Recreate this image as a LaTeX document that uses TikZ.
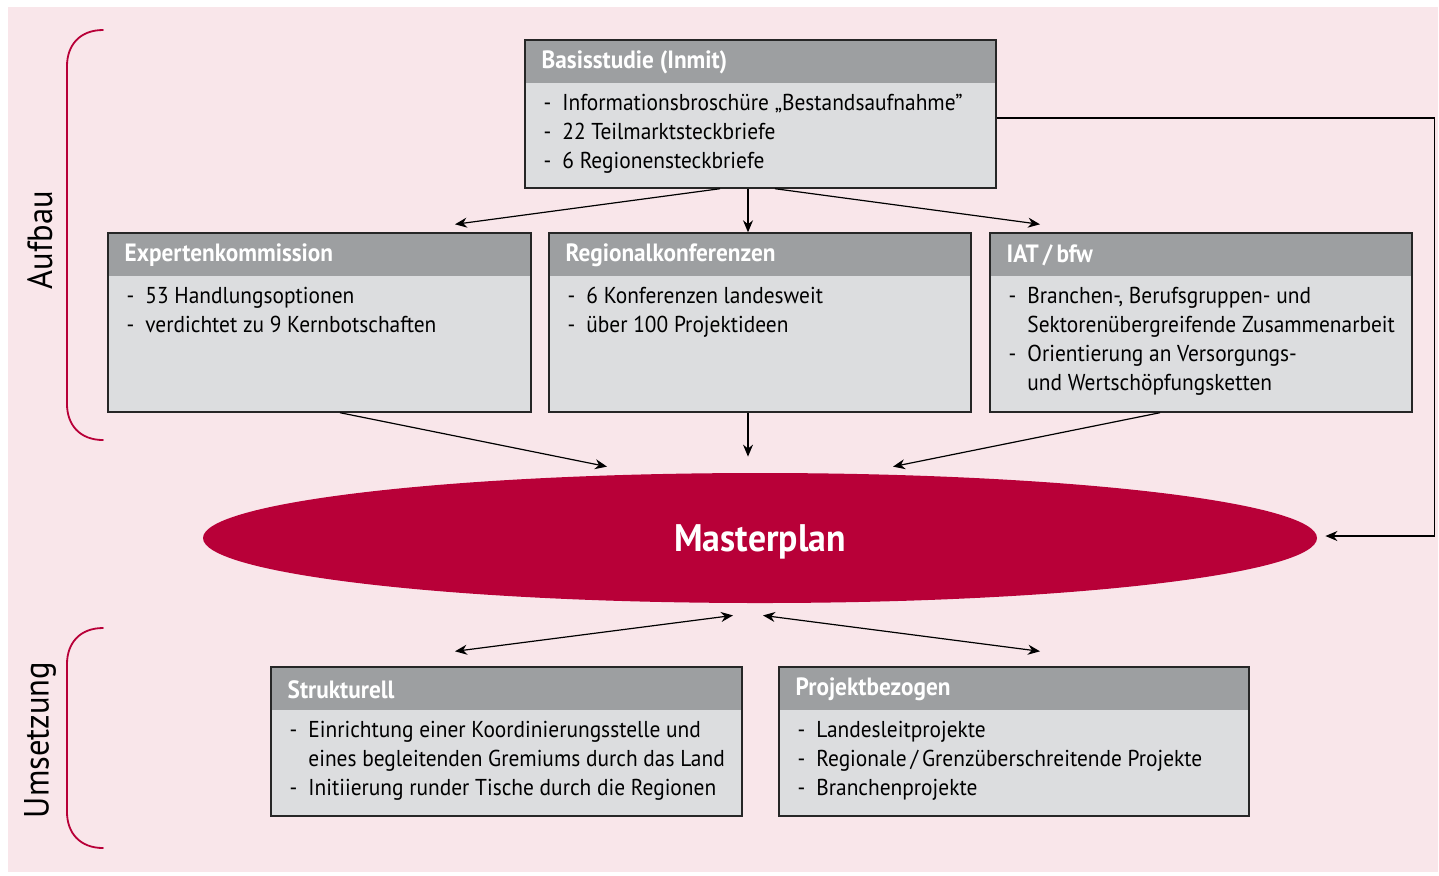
\documentclass[tikz,border=0pt]{standalone}
\usepackage{fontspec}
\setmainfont{PT Sans}[FakeStretch=0.93]
\usetikzlibrary{shapes.geometric,arrows.meta}
\definecolor{bgpink}{HTML}{F9E6EA}
\definecolor{crimson}{HTML}{B80038}
\definecolor{headgray}{HTML}{9D9FA1}
\definecolor{bodygray}{HTML}{DCDDDF}
\begin{document}
\begin{tikzpicture}[x=0.5pt,y=-0.5pt,
  panel/.style={fill=bodygray, draw=black!85, line width=0.7pt, inner sep=0pt,
    path picture={\fill[headgray] (path picture bounding box.north west) rectangle ([yshift=-21.5pt]path picture bounding box.north east);}},
  headtext/.style={anchor=west, inner sep=0pt, text=white, font=\bfseries\fontsize{12.5}{14.5}\selectfont},
  listtext/.style={anchor=north west, inner sep=0pt, font=\fontsize{11.5}{14.5}\selectfont},
  arr/.style={-{Stealth[length=6pt,width=5pt]}, line width=0.6pt},
  darr/.style={{Stealth[length=6pt,width=5pt]}-{Stealth[length=6pt,width=5pt]}, line width=0.6pt},
  bracket/.style={draw=crimson, line width=0.9pt, line cap=round}]
\useasboundingbox (0,0) rectangle (1439,875);
\fill[bgpink] (8,7) rectangle (1438,872);
%%% The panels of the Aufbau phase
\node[panel, minimum width=235.5pt, minimum height=74pt] (basis) at (760.5,114) {};
\node[headtext] (basisT) at ([shift={(17,23)}]basis.north west) {Basisstudie (Inmit)};
\node[listtext] (basisL) at ([shift={(19,50)}]basis.north west)
{\begin{tabular}{@{}l@{\hspace{5.5pt}}l@{}}
- & Informationsbroschüre „Bestandsaufnahme”\\
- & 22 Teilmarktsteckbriefe\\
- & 6 Regionensteckbriefe
\end{tabular}};
%
\node[panel, minimum width=211.5pt, minimum height=89.5pt] (expert) at (319.5,322.5) {};
\node[headtext] (expertT) at ([shift={(17,23)}]expert.north west) {Expertenkommission};
\node[listtext] (expertL) at ([shift={(19,50)}]expert.north west)
{\begin{tabular}{@{}l@{\hspace{5.5pt}}l@{}}
- & 53 Handlungsoptionen\\
- & verdichtet zu 9 Kernbotschaften
\end{tabular}};
%
\node[panel, minimum width=211pt, minimum height=89.5pt] (regional) at (760,322.5) {};
\node[headtext] (regionalT) at ([shift={(17,23)}]regional.north west) {Regionalkonferenzen};
\node[listtext] (regionalL) at ([shift={(19,50)}]regional.north west)
{\begin{tabular}{@{}l@{\hspace{5.5pt}}l@{}}
- & 6 Konferenzen landesweit\\
- & über 100 Projektideen
\end{tabular}};
%
\node[panel, minimum width=211pt, minimum height=89.5pt] (iat) at (1201,322.5) {};
\node[headtext] (iatT) at ([shift={(17,23)}]iat.north west) {IAT\,/\,bfw};
\node[listtext] (iatL) at ([shift={(19,50)}]iat.north west)
{\begin{tabular}{@{}l@{\hspace{5.5pt}}l@{}}
- & Branchen-, Berufsgruppen- und\\
  & Sektorenübergreifende Zusammenarbeit\\
- & Orientierung an Versorgungs-\\
  & und Wertschöpfungsketten
\end{tabular}};
%%% The Masterplan
\node[ellipse, fill=crimson, minimum width=557pt, minimum height=65pt, inner sep=0pt, text depth=0pt,
  text=white, font=\bfseries\fontsize{19.2}{21}\selectfont] (master) at (760,538) {Masterplan};
%%% The panels of the Umsetzung phase
\node[panel, minimum width=235.5pt, minimum height=74.5pt] (struk) at (506.5,741.5) {};
\node[headtext] (strukT) at ([shift={(17,23)}]struk.north west) {Strukturell};
\node[listtext] (strukL) at ([shift={(19,50)}]struk.north west)
{\begin{tabular}{@{}l@{\hspace{5.5pt}}l@{}}
- & Einrichtung einer Koordinierungsstelle und\\
  & eines begleitenden Gremiums durch das Land\\
- & Initiierung runder Tische durch die Regionen
\end{tabular}};
%
\node[panel, minimum width=235pt, minimum height=74.5pt] (projekt) at (1014,741.5) {};
\node[headtext] (projektT) at ([shift={(17,23)}]projekt.north west) {Projektbezogen};
\node[listtext] (projektL) at ([shift={(19,50)}]projekt.north west)
{\begin{tabular}{@{}l@{\hspace{5.5pt}}l@{}}
- & Landesleitprojekte\\
- & Regionale\,/\,Grenzüberschreitende Projekte\\
- & Branchenprojekte
\end{tabular}};
%%% The phase labels and brackets
\node[rotate=90, inner sep=0pt, font=\fontsize{17.5}{19}\selectfont] (aufbau) at (40,240) {Aufbau};
\node[rotate=90, inner sep=0pt, font=\fontsize{17.5}{19}\selectfont] (umsetzung) at (40,740) {Umsetzung};
\draw[bracket] (103,30) .. controls (80,30) and (67,45) .. (67,66) -- (67,404) .. controls (67,425) and (80,440) .. (103,440);
\draw[bracket] (103,628) .. controls (80,628) and (67,643) .. (67,664) -- (67,812) .. controls (67,833) and (80,848) .. (103,848);
%Dependency between basis and the three panels
\draw[arr] ([shift={(-40.5,0)}]basis.south) to ([shift={(135.5,-8)}]expert.north);
\draw[arr] ([shift={(-12.5,0)}]basis.south) to ([shift={(-12,0)}]regional.north);
\draw[arr] ([shift={(14.5,0)}]basis.south) to ([shift={(-161,-8)}]iat.north);
%Dependency between the three panels and master
\draw[arr] ([shift={(20.5,0)}]expert.south) to ([shift={(-153,-6)}]master.north);
\draw[arr] ([shift={(-12,0)}]regional.south) to ([shift={(-12,-16)}]master.north);
\draw[arr] ([shift={(-41,0)}]iat.south) to ([shift={(133,-6)}]master.north);
%Dependency between master and the Umsetzung panels
\draw[darr] ([shift={(-27,12)}]master.south) to ([shift={(-51.5,-15)}]struk.north);
\draw[darr] ([shift={(3,12)}]master.south) to ([shift={(26,-15)}]projekt.north);
%Feedback from basis to master
\draw[arr] ([shift={(0,4)}]basis.east) -- ++(438,0) |- ([shift={(8,-2)}]master.east);
\end{tikzpicture}
\end{document}
